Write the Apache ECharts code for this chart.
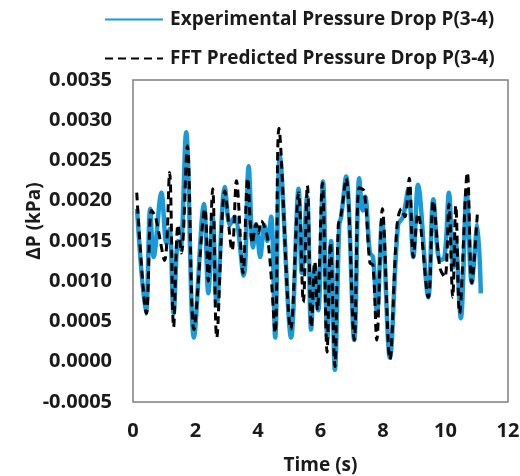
<!DOCTYPE html>
<html>
<head>
<meta charset="utf-8">
<script src="https://cdn.jsdelivr.net/npm/echarts@6/dist/echarts.min.js"></script>
<style>
html,body{margin:0;padding:0;background:#fff;}
#chart{width:520px;height:476px;}
</style>
</head>
<body>
<div id="chart"></div>
<script>
// Experimental pressure drop P(3-4): [time (s), ΔP (kPa)]
const experimental = [
  [0.13, 0.0019], [0.41, 0.0006], [0.55, 0.0019], [0.66, 0.0013], [0.91, 0.0021],
  [1.07, 0.00147], [1.17, 0.00165], [1.30, 0.0006], [1.44, 0.0015], [1.52, 0.0014],
  [1.70, 0.00285], [1.95, 0.0003], [2.27, 0.00196], [2.41, 0.00085], [2.55, 0.0018],
  [2.68, 0.0007], [2.94, 0.00217], [3.10, 0.0017], [3.25, 0.0018], [3.54, 0.00107],
  [3.70, 0.00243], [3.84, 0.00142], [3.94, 0.00171], [4.07, 0.0013], [4.20, 0.0017],
  [4.30, 0.0015], [4.42, 0.0018], [4.55, 0.0003], [4.70, 0.00255], [5.06, 0.0003],
  [5.30, 0.00215], [5.40, 0.0011], [5.57, 0.00205], [5.70, 0.0004], [5.82, 0.0012],
  [5.93, 0.00064], [6.08, 0.00224], [6.22, 0.0003], [6.34, 0.0015], [6.46, -0.0001],
  [6.60, 0.0017], [6.66, 0.0018], [6.82, 0.0023], [7.08, 0.00027], [7.24, 0.00228],
  [7.35, 0.00188], [7.43, 0.00205], [7.58, 0.00135], [7.68, 0.0013], [7.81, 0.0006],
  [7.97, 0.00175], [8.22, 0.00005], [8.48, 0.0017], [8.64, 0.0018], [8.81, 0.00214],
  [8.97, 0.0013], [9.12, 0.0022], [9.45, 0.0008], [9.61, 0.00202], [9.82, 0.00126],
  [9.97, 0.0013], [10.11, 0.0021], [10.25, 0.00117], [10.32, 0.0015], [10.49, 0.00054],
  [10.68, 0.00212], [10.84, 0.00098], [11.02, 0.0017], [11.13, 0.00085]
];
// FFT predicted pressure drop P(3-4): [time (s), ΔP (kPa)]
const fftPredicted = [
  [0.12, 0.0021], [0.43, 0.0006], [0.59, 0.00188], [0.72, 0.0018], [1.01, 0.00126],
  [1.17, 0.00235], [1.30, 0.00043], [1.44, 0.0017], [1.55, 0.00135], [1.74, 0.00268],
  [1.95, 0.0004], [2.30, 0.0019], [2.41, 0.001], [2.55, 0.00215], [2.68, 0.0003],
  [2.94, 0.00212], [3.17, 0.00138], [3.31, 0.00225], [3.52, 0.0011], [3.67, 0.00228],
  [3.82, 0.00147], [3.94, 0.00171], [4.02, 0.0016], [4.10, 0.00175], [4.32, 0.0015],
  [4.55, 0.00036], [4.67, 0.0029], [5.05, 0.0004], [5.30, 0.0021], [5.45, 0.00074],
  [5.58, 0.00219], [5.71, 0.00043], [5.82, 0.00124], [5.90, 0.00064], [6.06, 0.00222],
  [6.21, 0.00012], [6.32, 0.00148], [6.46, -0.00006], [6.57, 0.0017], [6.65, 0.0018],
  [6.82, 0.00228], [7.08, 0.00027], [7.24, 0.00216], [7.40, 0.00212], [7.58, 0.00123],
  [7.68, 0.0012], [7.80, 0.00027], [7.98, 0.0019], [8.22, 0.00003], [8.45, 0.0017],
  [8.59, 0.0019], [8.70, 0.0018], [8.84, 0.00228], [8.97, 0.0013], [9.12, 0.00184],
  [9.45, 0.0008], [9.61, 0.002], [9.82, 0.00117], [9.98, 0.00105], [10.11, 0.00196],
  [10.23, 0.0008], [10.33, 0.00194], [10.45, 0.0006], [10.70, 0.00235], [10.84, 0.00098],
  [11.02, 0.00184]
];
const seriesNames = ['Experimental Pressure Drop P(3-4)', 'FFT Predicted Pressure Drop P(3-4)'];
const xTicks = { min: 0, max: 12, interval: 2 };
const yTicks = { min: -0.0005, max: 0.0035, interval: 0.0005 };
const xAxisTitle = 'Time (s)';
const yAxisTitle = 'ΔP (kPa)';

const FONT = '"Open Sans", sans-serif';
const chart = echarts.init(document.getElementById('chart'), null, { renderer: 'canvas' });
chart.setOption({
  animation: false,
  backgroundColor: '#ffffff',
  grid: {
    left: 133, right: 12, top: 80, bottom: 74,
    outerBoundsMode: 'none', containLabel: false,
    show: true, borderColor: '#7f7f7f', borderWidth: 1.5, backgroundColor: 'transparent'
  },
  legend: {
    orient: 'vertical',
    left: 99, top: 5,
    itemWidth: 58, itemHeight: 22, itemGap: 20,
    itemStyle: { opacity: 0 },
    textStyle: { fontFamily: FONT, fontWeight: 'bold', fontSize: 19, color: '#1a1a1a', padding: [0, 0, 0, 2] },
    data: seriesNames
  },
  xAxis: {
    type: 'value',
    min: xTicks.min, max: xTicks.max, interval: xTicks.interval,
    name: xAxisTitle, nameLocation: 'middle', nameGap: 54,
    nameTextStyle: { fontFamily: FONT, fontWeight: 'bold', fontSize: 19, color: '#1a1a1a' },
    axisLine: { show: false }, axisTick: { show: false }, splitLine: { show: false },
    axisLabel: { margin: 19, fontFamily: FONT, fontWeight: 'bold', fontSize: 20, color: '#1a1a1a' }
  },
  yAxis: {
    type: 'value',
    min: yTicks.min, max: yTicks.max, interval: yTicks.interval,
    axisLine: { show: false }, axisTick: { show: false }, splitLine: { show: false },
    axisLabel: {
      margin: 21, fontFamily: FONT, fontWeight: 'bold', fontSize: 20, color: '#1a1a1a',
      formatter: v => v.toFixed(4)
    }
  },
  graphic: [{
    type: 'text',
    x: 35, y: 221,
    rotation: Math.PI / 2,
    style: {
      text: yAxisTitle, fontFamily: FONT, fontWeight: 'bold', fontSize: 19, fill: '#1a1a1a',
      align: 'center', verticalAlign: 'middle'
    }
  }],
  series: [
    {
      name: seriesNames[0], type: 'line', data: experimental,
      smooth: 0.35, symbol: 'none',
      lineStyle: { color: '#1a9ad8', width: 4.5 },
      itemStyle: { color: '#1a9ad8' }
    },
    {
      name: seriesNames[1], type: 'line', data: fftPredicted,
      smooth: 0.35, symbol: 'none',
      lineStyle: { color: '#000000', width: 3, type: [8, 5] },
      itemStyle: { color: '#000000' }
    }
  ]
});
</script>
</body>
</html>
